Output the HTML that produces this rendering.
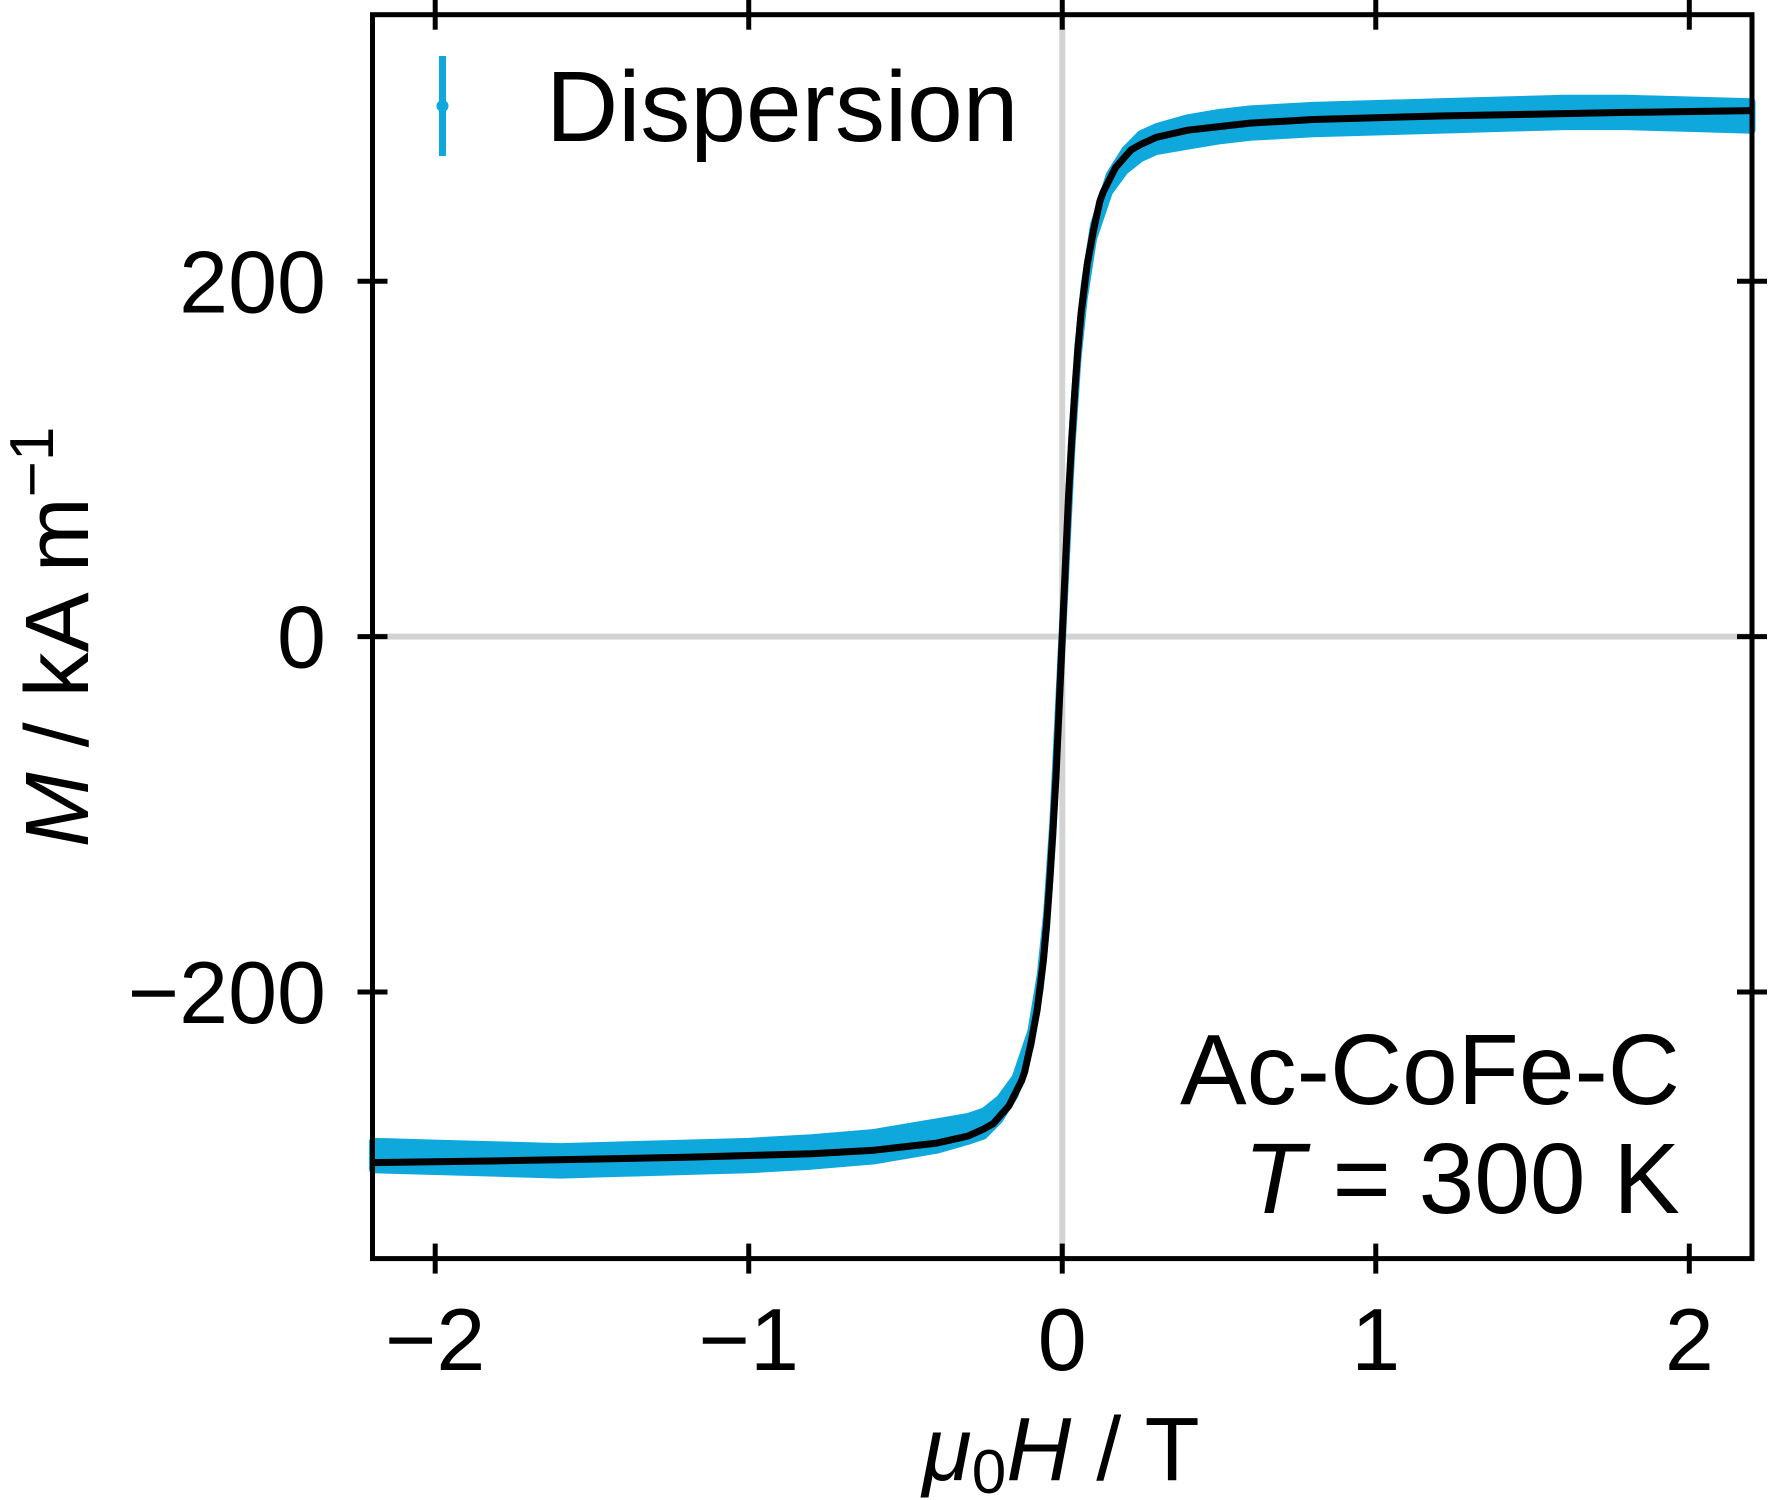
<!DOCTYPE html>
<html><head><meta charset="utf-8">
<style>
html,body{margin:0;padding:0;background:#fff;}
svg{display:block;}
text{font-family:"Liberation Sans",sans-serif;fill:#000;}
</style></head>
<body>
<svg id="chart" width="1770" height="1500" viewBox="0 0 1770 1500" xmlns="http://www.w3.org/2000/svg">
<g id="plot"></g>
</svg>
<script>
// field values (T) for fit curve
const fitField = [-2.2,-1.8,-1.5,-1.2,-1.0,-0.8,-0.7,-0.6,-0.5,-0.4,-0.35,-0.3,-0.25,-0.22,-0.2,-0.17,-0.15,-0.13,-0.12,-0.1,-0.08,-0.07,-0.06,-0.05,-0.04,-0.03,-0.02,-0.01,0,0.01,0.02,0.03,0.04,0.05,0.06,0.07,0.08,0.1,0.12,0.13,0.15,0.17,0.2,0.22,0.25,0.3,0.35,0.4,0.5,0.6,0.7,0.8,1.0,1.2,1.5,1.8,2.2];
const fitMag = [-296,-295,-294,-293,-292,-291,-290,-289,-287,-285,-283,-281,-277,-274,-270,-264,-257,-250,-245,-229,-210,-196,-182,-162,-138,-110,-79,-40,0,40,79,110,138,162,182,196,210,229,245,250,257,264,270,274,277,281,283,285,287,289,290,291,292,293,294,295,296];
// measured data (mean) sampled along field, with error half-width
const dataField = [-2.2,-2.0,-1.8,-1.6,-1.4,-1.2,-1.0,-0.8,-0.6,-0.5,-0.4,-0.3,-0.25,-0.2,-0.15,-0.1,-0.07,-0.05,-0.03,0,0.03,0.05,0.07,0.1,0.15,0.2,0.25,0.3,0.4,0.5,0.6,0.8,1.0,1.2,1.4,1.6,1.8,2.0,2.2];
const dataMag = [-292,-293,-294,-295,-294,-293,-292,-290,-287,-284,-281,-277,-274,-266,-253,-226,-194,-160,-108,0,108,160,194,228,255,268,276,280,284,287,289,291,292,293,294,295,295,294,293];
const dataErr = [8,8,8,8,8,8,8,8,8,8,8,7,7,6,5,4,4,4,4,4,4,4,4,4,5,6,7,7,8,8,8,8,8,8,8,8,8,8,8];
const xTicks = [-2,-1,0,1,2];
const xTickLabels = ["\u22122","\u22121","0","1","2"];
const yTicks = [-200,0,200];
const yTickLabels = ["\u2212200","0","200"];

const L=372.5, R=1752, T=14.7, B=1258.6;
const xMin=-2.2, xMax=2.2, yMin=-350, yMax=350;
function sx(v){return L+(v-xMin)/(xMax-xMin)*(R-L);}
function sy(v){return B-(v-yMin)/(yMax-yMin)*(B-T);}
const NS="http://www.w3.org/2000/svg";
const g=document.getElementById('plot');
function el(tag,attrs,parent){const e=document.createElementNS(NS,tag);for(const k in attrs)e.setAttribute(k,attrs[k]);(parent||g).appendChild(e);return e;}

let gx=el('line',{x1:sx(0),x2:sx(0),y1:T,y2:B,stroke:'#d3d3d3','stroke-width':6});


let gy=el('line',{x1:L,x2:R,y1:sy(0),y2:sy(0),stroke:'#d3d3d3','stroke-width':6});



let up=[],lo=[];
for(let i=0;i<dataField.length;i++){up.push(sx(dataField[i])+','+sy(dataMag[i]+dataErr[i]));lo.unshift(sx(dataField[i])+','+sy(dataMag[i]-dataErr[i]));}
let band=el('polygon',{points:up.concat(lo).join(' '),fill:'#0fa8dc',stroke:'#0fa8dc','stroke-width':7,'stroke-linejoin':'round'});



let pts=[];
for(let i=0;i<fitField.length;i++)pts.push(sx(fitField[i])+','+sy(fitMag[i]));
let fit=el('polyline',{points:pts.join(' '),fill:'none',stroke:'#000','stroke-width':7,'stroke-linejoin':'round'});



let fr=el('rect',{x:L,y:T,width:R-L,height:B-T,fill:'none',stroke:'#000','stroke-width':5});



xTicks.forEach((v,i)=>{
  const x=sx(v);
  let t1=el('line',{x1:x,x2:x,y1:B-15,y2:B+15,stroke:'#000','stroke-width':5});
  
  
  let t2=el('line',{x1:x,x2:x,y1:T-15,y2:T+15,stroke:'#000','stroke-width':5});
  
  
  let tl=el('text',{x:x,y:1370,'font-size':88,'text-anchor':'middle'});
  tl.textContent=xTickLabels[i];
  
  
});
yTicks.forEach((v,i)=>{
  const y=sy(v);
  let t1=el('line',{x1:L-15,x2:L+15,y1:y,y2:y,stroke:'#000','stroke-width':5});
  
  
  let t2=el('line',{x1:R-15,x2:R+15,y1:y,y2:y,stroke:'#000','stroke-width':5});
  
  
  let tl=el('text',{x:326,y:y+31,'font-size':88,'text-anchor':'end'});
  tl.textContent=yTickLabels[i];
  
  
});
</script>
<svg style="position:absolute;left:0;top:0" width="1770" height="1500">
  <text x="1061" y="1480" font-size="90" text-anchor="middle"><tspan font-style="italic">μ</tspan><tspan font-size="62" dy="13">0</tspan><tspan dy="-13" font-style="italic">H</tspan> / T</text>
  <text transform="translate(88,637) rotate(-90)" font-size="90" text-anchor="middle"><tspan font-style="italic">M</tspan> / kA m<tspan font-size="62" dy="-35">−1</tspan></text>
  <g>
    <rect x="439" y="56" width="7" height="100" fill="#0fa8dc"/>
    <circle cx="442.5" cy="106" r="6" fill="#0fa8dc"/>
    <text x="546" y="141" font-size="100">Dispersion</text>
  </g>
  <text x="1680" y="1104" font-size="100" text-anchor="end">Ac-CoFe-C</text>
  <text x="1680" y="1213" font-size="100" text-anchor="end"><tspan font-style="italic">T</tspan> = 300 K</text>
</svg>
</body></html>
